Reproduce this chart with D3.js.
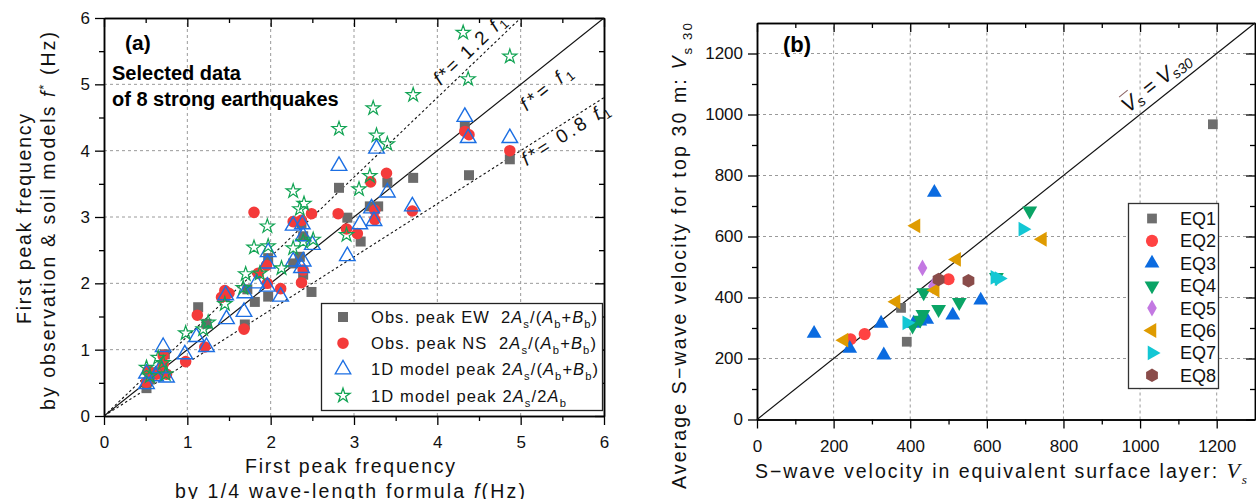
<!DOCTYPE html>
<html>
<head>
<meta charset="utf-8">
<script src="https://cdn.jsdelivr.net/npm/d3@7"></script>
<style>
body { margin: 0; background: #fff; }
svg text { font-family: "Liberation Sans", Arial, sans-serif; white-space: pre; }
</style>
</head>
<body>
<svg id="chart" width="1256" height="499"></svg>
<script>
// ---------- panel (a): [f by 1/4 wave-length formula, f* peak] (Hz)
const obsEW = [[0.51,0.42],[0.55,0.55],[0.62,0.66],[0.70,0.70],[0.73,0.93],[1.13,1.64],[1.23,1.39],
  [1.45,1.80],[1.69,1.38],[1.72,1.91],[1.81,1.72],[1.97,1.80],[1.97,2.38],[2.27,2.30],[2.35,2.40],
  [2.39,2.13],[2.37,2.91],[2.39,2.71],[2.49,1.87],[2.82,3.44],[2.92,2.99],[3.08,2.63],[3.19,3.16],
  [3.29,3.16],[3.40,3.52],[3.71,3.59],[4.33,4.37],[4.38,3.63],[4.87,3.87]]
const obsNS = [[0.51,0.51],[0.53,0.68],[0.63,0.63],[0.71,0.78],[0.71,0.91],[0.75,0.63],[0.98,0.82],
  [1.21,1.04],[1.12,1.52],[1.41,1.79],[1.45,1.89],[1.50,1.85],[1.68,1.31],[1.80,3.07],[1.85,2.15],
  [1.95,2.27],[1.96,2.00],[2.12,1.92],[2.27,2.93],[2.37,2.95],[2.37,2.01],[2.39,2.20],[2.49,3.05],
  [2.81,3.05],[2.91,2.82],[3.04,2.75],[3.20,3.53],[3.25,3.10],[3.25,2.96],[3.39,3.66],[3.70,3.09],
  [4.33,4.29],[4.38,4.24],[4.87,4.00]]
const modelAB = [[0.51,0.48],[0.51,0.64],[0.62,0.60],[0.68,0.72],[0.71,1.04],[0.75,0.58],[0.97,0.93],
  [1.11,1.19],[1.23,1.04],[1.47,1.46],[1.46,1.82],[1.68,1.57],[1.69,1.85],[1.83,2.00],[1.96,1.95],
  [1.96,2.30],[1.97,2.47],[2.12,1.80],[2.27,2.33],[2.27,2.87],[2.38,2.89],[2.37,2.23],[2.39,2.33],
  [2.39,2.71],[2.50,2.58],[2.82,3.77],[2.92,2.41],[3.07,2.89],[3.21,3.13],[3.24,2.94],[3.27,4.03],
  [3.40,3.37],[3.70,3.16],[4.33,4.51],[4.37,4.19],[4.87,4.19]]
const model2A = [[0.51,0.73],[0.55,0.60],[0.65,0.88],[0.71,0.80],[0.74,0.63],[0.98,1.25],[1.19,1.31],
  [1.25,1.41],[1.45,1.69],[1.67,1.93],[1.70,2.14],[1.87,2.15],[1.80,2.54],[1.97,2.56],[1.96,2.86],
  [2.13,2.23],[2.27,2.53],[2.27,3.39],[2.35,3.12],[2.40,3.20],[2.39,2.63],[2.51,2.66],[2.91,2.73],
  [2.82,4.33],[3.06,3.42],[3.19,3.62],[3.23,4.64],[3.27,4.23],[3.40,4.10],[3.71,4.84],[4.31,5.78],
  [4.37,5.08],[4.87,5.42]]
const ticksA = [0, 1, 2, 3, 4, 5, 6]
const ratios = [1.2, 1, 0.8]
const ratioLabels = ["1.2 ", "", "0.8 "]

// ---------- panel (b): [Vs equivalent layer, Vs30] (m/s)
const eqNames = ["EQ1", "EQ2", "EQ3", "EQ4", "EQ5", "EQ6", "EQ7", "EQ8"]
const eq1 = [[1190,968],[376,366],[391,255]]
const eq2 = [[244,263],[281,280],[500,460]]
const eq3 = [[463,744],[149,282],[242,233],[324,315],[331,211],[409,315],[425,322],[443,328],[511,342],[584,391]]
const eq4 = [[712,684],[435,416],[474,361],[528,384],[433,345],[426,326],[406,307],[625,466]]
const eq5 = [[432,497],[459,437]]
const eq6 = [[415,635],[227,260],[363,386],[465,424],[521,525],[745,591]]
const eq7 = [[694,624],[391,317],[621,466],[632,462]]
const eq8 = [[474,459],[552,455]]
const ticksB = [0, 200, 400, 600, 800, 1000, 1200]

const svg = d3.select("#chart")
const BOLD = "'Open Sans', sans-serif"
const TITLE = "'DejaVu Sans', sans-serif"
const SERIF = "'Liberation Serif', 'Times New Roman', serif"

// rich text: segments {t, it, sub, sup, serif}
function rich(text, segs, size) {
  let off = 0
  segs.forEach(s => {
    const target = s.sub ? size * 0.3 : s.sup ? -size * 0.35 : 0
    const ts = text.append("tspan").text(s.t).attr("dy", target - off)
    off = target
    if (s.it) ts.attr("font-style", "italic")
    if (s.serif) ts.attr("font-family", SERIF)
    if (s.sub || s.sup) ts.attr("font-size", size * 0.68)
    if (s.size) ts.attr("font-size", s.size)
  })
  return text
}

// box, grid and four axes
function frame(x, y, major, minor) {
  const [x0, x1] = x.range(), [y0, y1] = y.range()
  const g = svg.append("g")
  g.selectAll("line.gx").data(major.filter(d => d > x.domain()[0] && d < x.domain()[1])).join("line").attr("class", "gx")
    .attr("x1", d => x(d)).attr("x2", d => x(d)).attr("y1", y0).attr("y2", y1)
    .attr("stroke", "#9a9a9a").attr("stroke-dasharray", "3,3")
  g.selectAll("line.gy").data(major.filter(d => d > y.domain()[0] && d < y.domain()[1])).join("line").attr("class", "gy")
    .attr("y1", d => y(d)).attr("y2", d => y(d)).attr("x1", x0).attr("x2", x1)
    .attr("stroke", "#9a9a9a").attr("stroke-dasharray", "3,3")

  const ax = (gen, tr, size, vals, lab, pad) => {
    const a = g.append("g").attr("transform", tr)
      .call(gen.tickValues(vals).tickSize(size).tickSizeOuter(0).tickPadding(pad || 4)
        .tickFormat(lab ? d3.format("d") : () => ""))
    a.select(".domain").attr("stroke-width", 1.5)
    a.selectAll(".tick line").attr("stroke-width", 1.3)
    a.selectAll("text").attr("font-family", "'Liberation Sans', Arial, sans-serif")
      .attr("font-size", 17).attr("fill", "#111")
    return a
  }
  ax(d3.axisBottom(x), `translate(0,${y0})`, 9, major, true, 11)
  ax(d3.axisBottom(x), `translate(0,${y0})`, 5, minor, false)
  ax(d3.axisLeft(y), `translate(${x0},0)`, 9, major, true, 5)
  ax(d3.axisLeft(y), `translate(${x0},0)`, 5, minor, false)
  ax(d3.axisTop(x), `translate(0,${y1})`, -9, major, false)
  ax(d3.axisTop(x), `translate(0,${y1})`, -5, minor, false)
  ax(d3.axisRight(y), `translate(${x1},0)`, -9, major, false)
  ax(d3.axisRight(y), `translate(${x1},0)`, -5, minor, false)
}

// ================= panel (a)
const xa = d3.scaleLinear().domain([0, 6]).range([104, 604])
const ya = d3.scaleLinear().domain([0, 6]).range([416, 18])
frame(xa, ya, ticksA, d3.range(0.5, 6, 1))

svg.append("clipPath").attr("id", "clipA").append("rect")
  .attr("x", 104).attr("y", 18).attr("width", 500).attr("height", 398)

svg.append("g").attr("clip-path", "url(#clipA)").selectAll("line.ratio").data(ratios).join("line")
  .attr("x1", xa(0)).attr("y1", ya(0))
  .attr("x2", r => xa(Math.min(6, 6 / r))).attr("y2", r => ya(Math.min(6, 6 * r)))
  .attr("stroke", "#111").attr("stroke-width", r => r === 1 ? 1.2 : 1.1)
  .attr("stroke-dasharray", r => r === 1 ? null : "2.5,2.5")

// labels on the ratio lines
const labPos = [[4.38, 5.53], [5.30, 4.95], [5.53, 4.26]]
const labLen = [92, 60, 100]
ratios.forEach((r, i) => {
  const ang = -Math.atan(r * (ya(0) - ya(1)) / (xa(1) - xa(0))) * 180 / Math.PI
  const t = svg.append("text")
    .attr("transform", `translate(${xa(labPos[i][0])},${ya(labPos[i][1])}) rotate(${ang})`)
    .attr("text-anchor", "middle").attr("dominant-baseline", "central")
    .attr("font-family", TITLE).attr("font-size", 19).attr("fill", "#111")
    .attr("textLength", labLen[i]).attr("lengthAdjust", "spacing")
  rich(t, [{t: "f", it: true}, {t: "*= " + ratioLabels[i]}, {t: "f", it: true}, {t: "1", sub: true}], 19)
})

const sym = (type, size) => d3.symbol().type(type).size(size)()
const plotA = svg.append("g").attr("clip-path", "url(#clipA)")
plotA.selectAll("path.ew").data(obsEW).join("path").attr("class", "ew")
  .attr("d", sym(d3.symbolSquare, 100))
  .attr("transform", d => `translate(${xa(d[0])},${ya(d[1])})`).attr("fill", "#6b6b6b")
plotA.selectAll("path.ns").data(obsNS).join("path").attr("class", "ns")
  .attr("d", sym(d3.symbolCircle, 105))
  .attr("transform", d => `translate(${xa(d[0])},${ya(d[1])})`).attr("fill", "#f43a3a")
plotA.selectAll("path.mab").data(modelAB).join("path").attr("class", "mab")
  .attr("d", sym(d3.symbolTriangle, 105))
  .attr("transform", d => `translate(${xa(d[0])},${ya(d[1])})`)
  .attr("fill", "none").attr("stroke", "#1c6fe3").attr("stroke-width", 1.4)
plotA.selectAll("path.m2a").data(model2A).join("path").attr("class", "m2a")
  .attr("d", sym(d3.symbolStar, 62))
  .attr("transform", d => `translate(${xa(d[0])},${ya(d[1])})`)
  .attr("fill", "none").attr("stroke", "#12a454").attr("stroke-width", 1.2)

// legend (a)
const legA = svg.append("g")
legA.append("rect").attr("x", 321.5).attr("y", 303.5).attr("width", 281).attr("height", 107)
  .attr("fill", "#fff").attr("stroke", "#222").attr("stroke-width", 1.3)
const frac = [{t: "A", it: true}, {t: "s", sub: true}, {t: "/("}, {t: "A", it: true}, {t: "b", sub: true},
  {t: "+"}, {t: "B", it: true}, {t: "b", sub: true}, {t: ")"}]
const legItems = [
  {mark: sym(d3.symbolSquare, 100), fill: "#6b6b6b", stroke: "none", len: 226, segs: [{t: "Obs. peak EW  2"}].concat(frac)},
  {mark: sym(d3.symbolCircle, 105), fill: "#f43a3a", stroke: "none", len: 225, segs: [{t: "Obs. peak NS  2"}].concat(frac)},
  {mark: sym(d3.symbolTriangle, 105), fill: "none", stroke: "#1c6fe3", len: 227, segs: [{t: "1D model peak 2"}].concat(frac)},
  {mark: sym(d3.symbolStar, 62), fill: "none", stroke: "#12a454", len: 195,
    segs: [{t: "1D model peak 2"}, {t: "A", it: true}, {t: "s", sub: true}, {t: "/2"}, {t: "A", it: true}, {t: "b", sub: true}]}
]
legItems.forEach((it, i) => {
  const cy = 317 + i * 26.2
  legA.append("path").attr("d", it.mark).attr("transform", `translate(343,${cy})`)
    .attr("fill", it.fill).attr("stroke", it.stroke).attr("stroke-width", 1.3)
  const t = legA.append("text").attr("x", 371).attr("y", cy + 6).attr("font-family", TITLE)
    .attr("font-size", 16.5).attr("fill", "#111")
    .attr("textLength", it.len).attr("lengthAdjust", "spacing")
  rich(t, it.segs, 16.5)
})

// annotations (a)
svg.append("text").attr("x", 125).attr("y", 50).attr("font-family", BOLD).attr("font-weight", 700)
  .attr("font-size", 21).text("(a)")
svg.append("text").attr("x", 112).attr("y", 80).attr("font-family", BOLD).attr("font-weight", 700)
  .attr("font-size", 20).text("Selected data")
svg.append("text").attr("x", 112).attr("y", 106).attr("font-family", BOLD).attr("font-weight", 700)
  .attr("font-size", 20).text("of 8 strong earthquakes")

// axis titles
const title = (x, y, rot, len, segs) => {
  const t = svg.append("text").attr("transform", `translate(${x},${y}) rotate(${rot})`)
    .attr("text-anchor", "middle").attr("font-family", TITLE).attr("font-size", 19.5)
    .attr("textLength", len).attr("lengthAdjust", "spacing").attr("fill", "#111")
  return rich(t, segs, 19.5)
}
title(350, 473, 0, 210, [{t: "First peak frequency"}])
title(350, 498, 0, 350, [{t: "by 1/4 wave-length formula "}, {t: "f", it: true}, {t: "(Hz)"}])
title(31, 219, -90, 210, [{t: "First peak frequency"}])
title(55, 221, -90, 378, [{t: "by observation & soil models "}, {t: "f", it: true}, {t: "*", sup: true}, {t: " (Hz)"}])

// ================= panel (b)
const xb = d3.scaleLinear().domain([0, 1300]).range([757, 1255])
const yb = d3.scaleLinear().domain([0, 1300]).range([419.5, 23])
frame(xb, yb, ticksB, d3.range(100, 1300, 200))

svg.append("line").attr("x1", xb(0)).attr("y1", yb(0)).attr("x2", xb(1300)).attr("y2", yb(1300))
  .attr("stroke", "#111").attr("stroke-width", 1.2)

// line label V̄s = Vs30
{
  const ang = -Math.atan((yb(0) - yb(1)) / (xb(1) - xb(0))) * 180 / Math.PI
  const g = svg.append("g").attr("transform", `translate(${xb(1040)},${yb(1108)}) rotate(${ang})`)
  const t = g.append("text").attr("text-anchor", "middle").attr("dominant-baseline", "central")
    .attr("font-family", SERIF).attr("font-size", 21).attr("fill", "#111")
  rich(t, [{t: "V", it: true}, {t: "s", sub: true, it: true}, {t: " = "}, {t: "V", it: true}, {t: "s30", sub: true, it: true}], 21)
  const e = t.node().getExtentOfChar(0)
  g.append("line").attr("x1", e.x + 3).attr("x2", e.x + e.width).attr("y1", e.y + 1).attr("y2", e.y + 1)
    .attr("stroke", "#8a6060").attr("stroke-width", 1)
}

const shapes = [
  d3.symbolSquare, d3.symbolCircle, d3.symbolTriangle, d3.symbolTriangle,
  d3.symbolDiamond, d3.symbolTriangle, d3.symbolTriangle, "hex"
]
const rots = [0, 0, 0, 180, 0, -90, 90, 0]
const sizes = [95, 115, 95, 95, 80, 95, 95, 0]
const colors = ["#6e6e6e", "#ff4242", "#0b6be0", "#0aa466", "#c378e2", "#df9b00", "#13c7d4", "#8a4c4a"]
const hexPath = r => "M" + d3.range(6).map(k => {
  const a = Math.PI / 6 + k * Math.PI / 3
  return [r * Math.cos(a), r * Math.sin(a)]
}).join("L") + "Z"
const markB = i => shapes[i] === "hex" ? hexPath(6.8) : sym(shapes[i], sizes[i])
const eqSets = [eq1, eq2, eq3, eq4, eq5, eq6, eq7, eq8]

const plotB = svg.append("g")
eqSets.forEach((set, i) => {
  plotB.selectAll(`path.eq${i}`).data(set).join("path").attr("class", `eq${i}`)
    .attr("d", markB(i))
    .attr("transform", d => `translate(${xb(d[0])},${yb(d[1])}) rotate(${rots[i]})`)
    .attr("fill", colors[i])
})

// legend (b)
const legB = svg.append("g")
legB.append("rect").attr("x", 1128.5).attr("y", 203.5).attr("width", 90).attr("height", 185)
  .attr("fill", "#fff").attr("stroke", "#333").attr("stroke-width", 1.3)
eqNames.forEach((n, i) => {
  const cy = 218.5 + i * 22.4
  legB.append("path").attr("d", markB(i)).attr("transform", `translate(1152,${cy}) rotate(${rots[i]})`)
    .attr("fill", colors[i])
  legB.append("text").attr("x", 1180).attr("y", cy + 6.5).attr("font-family", TITLE)
    .attr("font-size", 18).attr("fill", "#111").text(n)
})

svg.append("text").attr("x", 783).attr("y", 52).attr("font-family", BOLD).attr("font-weight", 700)
  .attr("font-size", 22).text("(b)")

// axis titles (b)
title(686, 256, -90, 466, [{t: "Average S\u2212wave velocity for top 30 m: "}, {t: "V", it: true},
  {t: "s 30", sub: true}])
{
  const t = title(1001, 478, 0, 492, [{t: "S\u2212wave velocity in equivalent surface layer: "},
    {t: "V", it: true, serif: true, size: 22}, {t: "s", sub: true, it: true, serif: true}])
  const n = t.node(), k = n.getNumberOfChars() - 2
  const e = n.getExtentOfChar(k)
  svg.append("line").attr("x1", e.x + 4).attr("x2", e.x + e.width).attr("y1", e.y + 1).attr("y2", e.y + 1)
    .attr("stroke", "#222").attr("stroke-width", 1)
}
</script>
</body>
</html>
